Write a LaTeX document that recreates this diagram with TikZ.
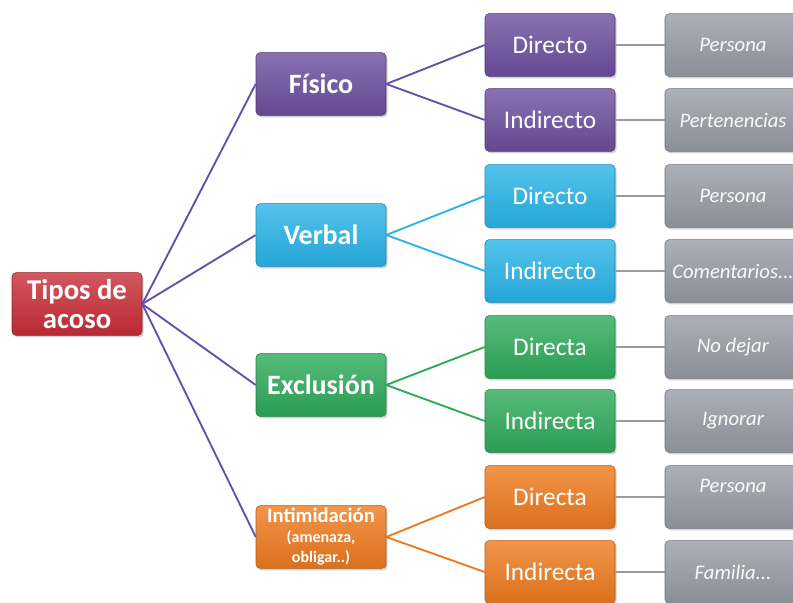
\documentclass[tikz,border=0pt]{standalone}
\usepackage{fontspec}
\setmainfont{Carlito}
\usetikzlibrary{shadows}
\definecolor{rootred}{RGB}{200,45,55}
\definecolor{fispurple}{RGB}{108,78,158}
\definecolor{verbcyan}{RGB}{40,180,232}
\definecolor{exclgreen}{RGB}{45,170,90}
\definecolor{intorange}{RGB}{238,122,30}
\definecolor{leafgray}{RGB}{150,155,165}
\definecolor{linepurple}{RGB}{100,80,170}

\tikzset{
  box/.style={rounded corners=3pt, minimum width=97.5pt, minimum height=47pt,
              align=center, text=white, draw=#1!75!black, line width=0.4pt,
              top color=#1!80!white, bottom color=#1!92!black,
              drop shadow={shadow xshift=1.2pt, shadow yshift=-1.5pt, opacity=0.35}},
  leaf/.style={box=leafgray, minimum width=102pt, text=white!96!gray,
               font=\fontsize{15.5}{18}\selectfont\itshape},
  conn/.style={line width=1.4pt, draw=#1},
}

\begin{document}
\begin{tikzpicture}[x=0.75pt, y=-0.75pt]
    \useasboundingbox (0,0) rectangle (793,603);
    \clip (0,0) rectangle (793,603);
    \fill[white] (0,0) rectangle (793,603);

    % ---- root ----
    \node[box=rootred, font=\fontsize{21.5}{22}\selectfont\bfseries] (root) at (77,304) {Tipos de\\acoso};

    % ---- level 1 ----
    \node[box=fispurple, font=\fontsize{21}{24}\selectfont\bfseries] (fis) at (321,84) {Físico};
    \node[box=verbcyan, font=\fontsize{21}{24}\selectfont\bfseries] (ver) at (321,235) {Verbal};
    \node[box=exclgreen, font=\fontsize{21}{24}\selectfont\bfseries] (exc) at (321,385) {Exclusión};
    \node[box=intorange, inner sep=1pt, font=\fontsize{15.5}{16}\selectfont\bfseries] (inti) at (321,537)
      {Intimidación\\[-1pt]{\fontsize{12}{12}\selectfont (amenaza,}\\[-1pt]{\fontsize{12}{12}\selectfont obligar..)}};

    % ---- level 2 ----
    \node[box=fispurple, font=\fontsize{19}{22}\selectfont] (fisdir) at (550,45) {Directo};
    \node[box=fispurple, font=\fontsize{19}{22}\selectfont] (fisind) at (550,120) {Indirecto};
    \node[box=verbcyan, font=\fontsize{19}{22}\selectfont] (verdir) at (550,196) {Directo};
    \node[box=verbcyan, font=\fontsize{19}{22}\selectfont] (verind) at (550,271) {Indirecto};
    \node[box=exclgreen, font=\fontsize{19}{22}\selectfont] (excdir) at (550,347) {Directa};
    \node[box=exclgreen, font=\fontsize{19}{22}\selectfont] (excind) at (550,421) {Indirecta};
    \node[box=intorange, font=\fontsize{19}{22}\selectfont] (intdir) at (550,497) {Directa};
    \node[box=intorange, font=\fontsize{19}{22}\selectfont] (intind) at (550,572) {Indirecta};

    % ---- leaves ----
    \node[leaf] (l1) at (733,45) {Persona};
    \node[leaf] (l2) at (733,120) {Pertenencias};
    \node[leaf] (l3) at (733,196) {Persona};
    \node[leaf] (l4) at (733,271) {Comentarios...};
    \node[leaf] (l5) at (733,347) {No dejar};
    \node[leaf] (l6) at (733,421) {Ignorar};
    \node[leaf, text depth=17pt] (l7) at (733,497) {Persona};
    \node[leaf] (l8) at (733,572) {Familia...};

    % ---- connectors ----
    \foreach \n in {fis,ver,exc,inti}
      \draw[conn=linepurple] (root.east) -- (\n.west);
    \draw[conn=linepurple] (fis.east) -- (fisdir.west);
    \draw[conn=linepurple] (fis.east) -- (fisind.west);
    \draw[conn=verbcyan] (ver.east) -- (verdir.west);
    \draw[conn=verbcyan] (ver.east) -- (verind.west);
    \draw[conn=exclgreen] (exc.east) -- (excdir.west);
    \draw[conn=exclgreen] (exc.east) -- (excind.west);
    \draw[conn=intorange] (inti.east) -- (intdir.west);
    \draw[conn=intorange] (inti.east) -- (intind.west);
    \foreach \a/\b in {fisdir/l1,fisind/l2,verdir/l3,verind/l4,excdir/l5,excind/l6,intdir/l7,intind/l8}
      \draw[conn=leafgray] (\a.east) -- (\b.west);

\end{tikzpicture}
\end{document}
